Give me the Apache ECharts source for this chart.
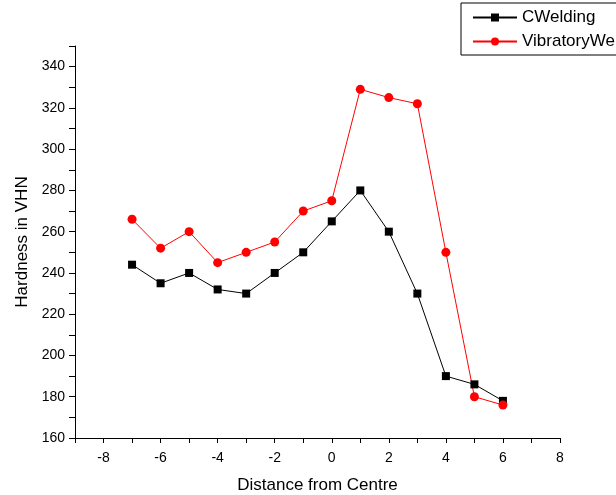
<!DOCTYPE html>
<html>
<head>
<meta charset="utf-8">
<script src="https://cdn.jsdelivr.net/npm/echarts@6/dist/echarts.min.js"></script>
<style>
  html, body { margin: 0; padding: 0; background: #fff; }
  #chart { width: 616px; height: 495px; }
</style>
</head>
<body>
<div id="chart"></div>
<script>
var distance = [-7, -6, -5, -4, -3, -2, -1, 0, 1, 2, 3, 4, 5, 6];
var cWelding = [244, 235, 240, 232, 230, 240, 250, 265, 280, 260, 230, 190, 186, 178];
var vibratoryWelding = [266, 252, 260, 245, 250, 255, 270, 275, 329, 325, 322, 250, 180, 176];

function pairs(xs, ys) {
  var out = [];
  for (var i = 0; i < xs.length; i++) {
    out.push([xs[i], ys[i]]);
  }
  return out;
}

var chart = echarts.init(document.getElementById('chart'));
var font = 'Liberation Sans, Arial, sans-serif';

var option = {
  animation: false,
  textStyle: { fontFamily: font },
  grid: { left: 75, right: 56, top: 46, bottom: 57, outerBoundsMode: 'none', containLabel: false },
  legend: {
    left: 461,
    top: 3,
    orient: 'vertical',
    itemWidth: 44,
    itemHeight: 10,
    itemGap: 7,
    padding: [6, 200, 5, 11],
    borderColor: '#000',
    borderWidth: 1,
    textStyle: { fontFamily: font, fontSize: 17, color: '#000' },
    data: ['CWelding', 'VibratoryWelding']
  },
  xAxis: {
    type: 'value',
    min: -9,
    max: 8,
    interval: 1,
    name: 'Distance from Centre',
    nameLocation: 'middle',
    nameGap: 39,
    nameTextStyle: { fontSize: 17, color: '#000' },
    axisLine: { onZero: false, lineStyle: { color: '#000', width: 1 } },
    axisTick: { length: 5, lineStyle: { color: '#000' } },
    splitLine: { show: false },
    axisLabel: {
      fontSize: 14,
      color: '#000',
      margin: 13,
      formatter: function (v) {
        return (v % 2 === 0) ? String(v) : '';
      }
    }
  },
  yAxis: {
    type: 'value',
    min: 160,
    max: 350,
    interval: 10,
    name: 'Hardness in VHN',
    nameLocation: 'middle',
    nameGap: 44,
    nameTextStyle: { fontSize: 17, color: '#000' },
    axisLine: { show: true, onZero: false, lineStyle: { color: '#000', width: 1 } },
    axisTick: { show: true, length: 6, lineStyle: { color: '#000' } },
    splitLine: { show: false },
    axisLabel: {
      fontSize: 14,
      color: '#000',
      margin: 10,
      formatter: function (v) {
        return (v % 20 === 0) ? String(v) : '';
      }
    }
  },
  series: [
    {
      name: 'CWelding',
      type: 'line',
      data: pairs(distance, cWelding),
      symbol: 'rect',
      symbolSize: 8,
      itemStyle: { color: '#000' },
      lineStyle: { color: '#000', width: 1 }
    },
    {
      name: 'VibratoryWelding',
      type: 'line',
      data: pairs(distance, vibratoryWelding),
      symbol: 'circle',
      symbolSize: 9,
      itemStyle: { color: '#ff0000' },
      lineStyle: { color: '#ff0000', width: 1 }
    }
  ]
};

chart.setOption(option);
</script>
</body>
</html>
